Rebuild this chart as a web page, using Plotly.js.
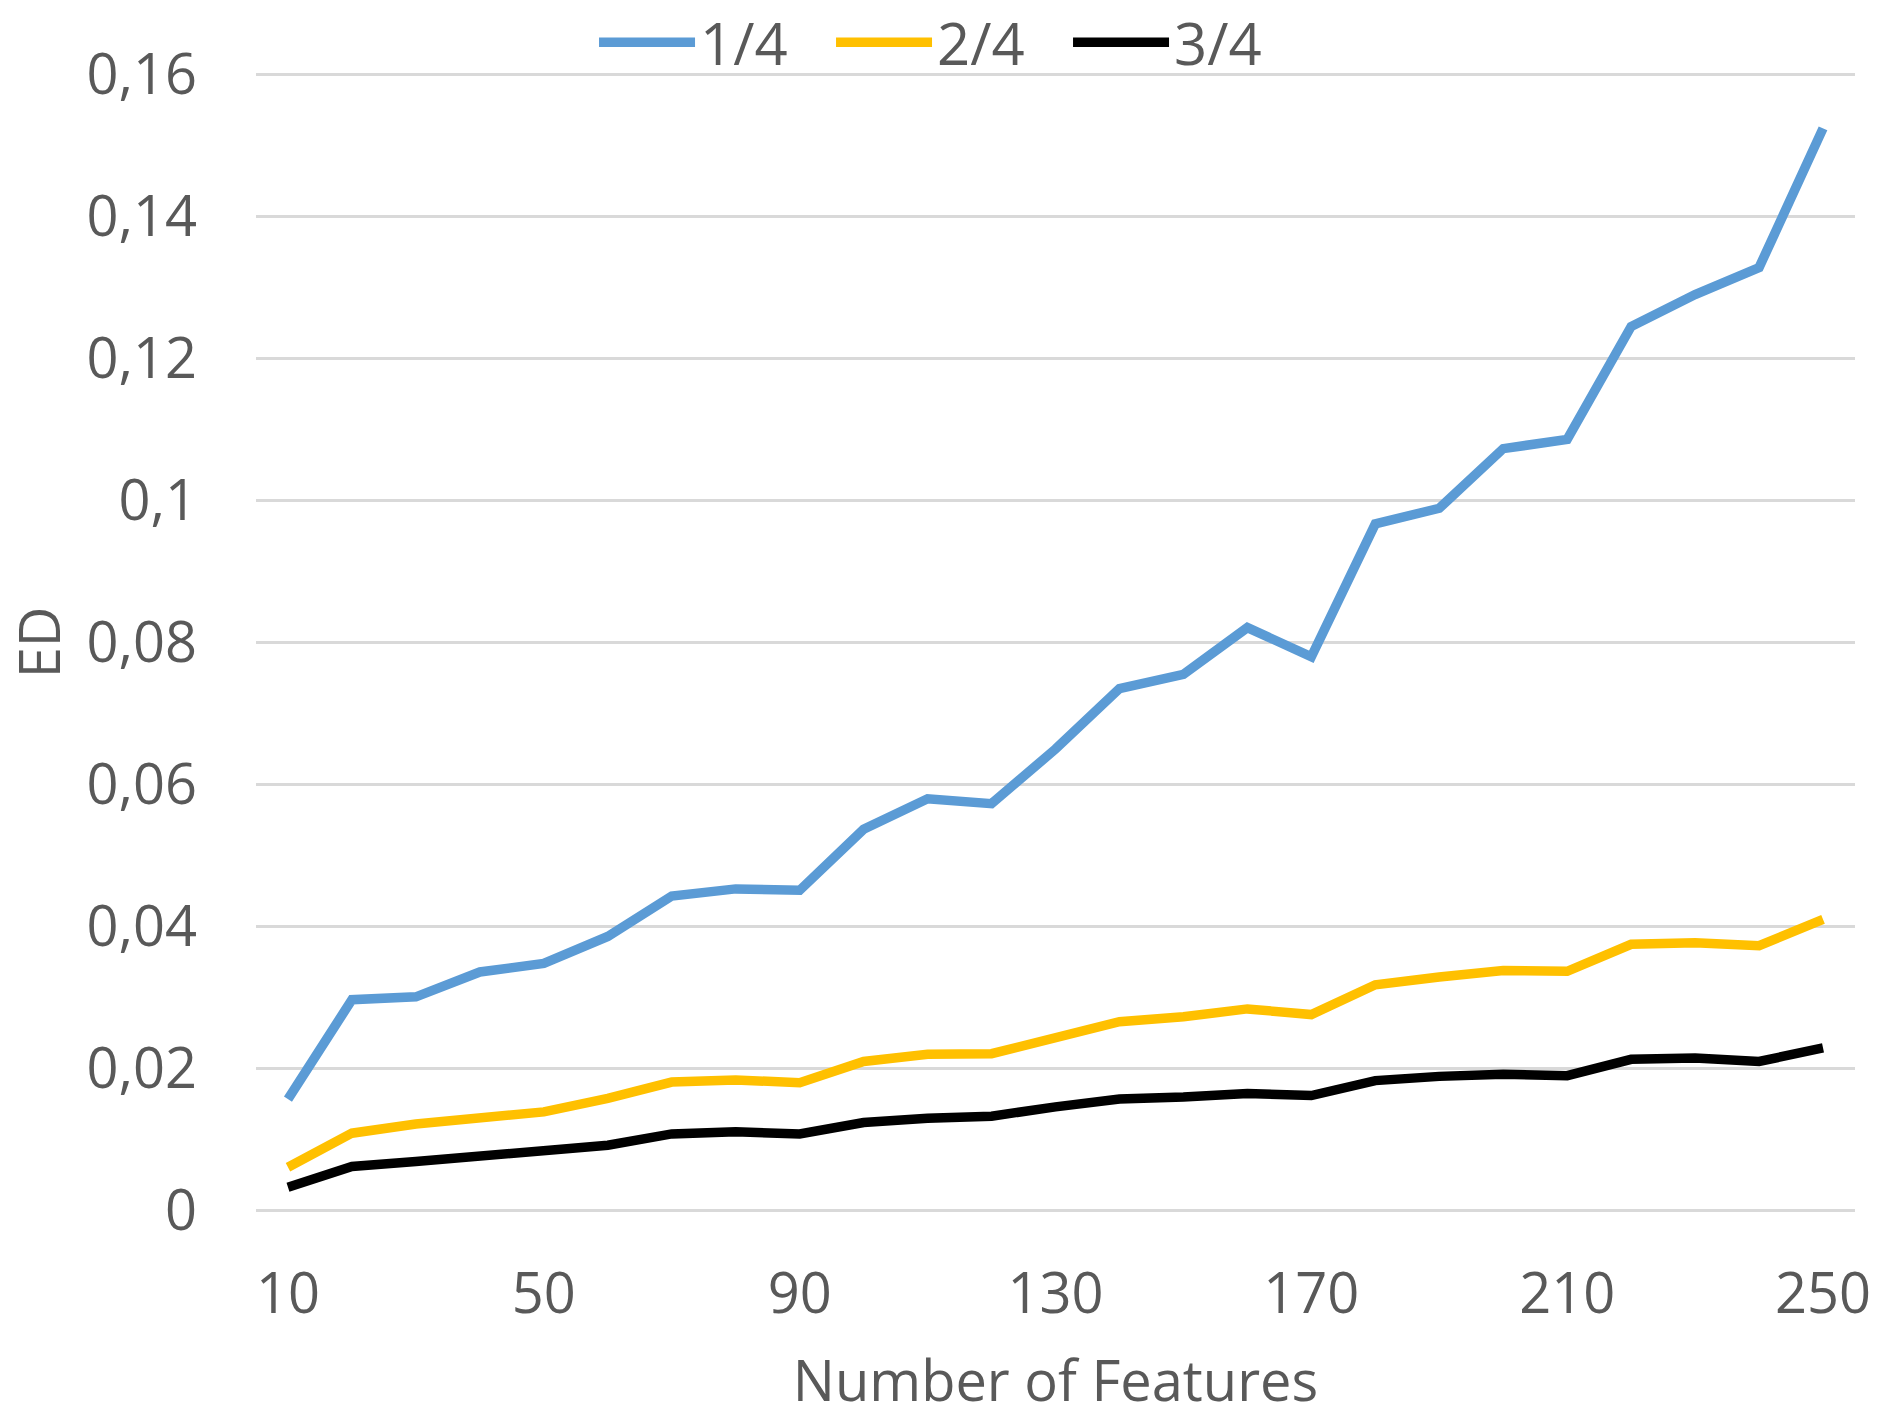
<!DOCTYPE html>
<html>
<head>
<meta charset="utf-8">
<script src="https://cdn.plot.ly/plotly-3.0.1.min.js"></script>
<style>html,body{margin:0;padding:0;background:#fff;}#chart{width:1881px;height:1417px;}</style>
</head>
<body>
<div id="chart"></div>
<script>
const features = [10,20,30,40,50,60,70,80,90,100,110,120,130,140,150,160,170,180,190,200,210,220,230,240,250];
const seriesNames = ['1/4','2/4','3/4'];
const quarter1 = [0.0157,0.0297,0.0301,0.0336,0.0348,0.0386,0.0443,0.0453,0.0451,0.0537,0.0580,0.0573,0.0650,0.0735,0.0755,0.0821,0.0780,0.0967,0.0989,0.1073,0.1086,0.1245,0.1290,0.1328,0.1524];
const quarter2 = [0.0061,0.0109,0.0122,0.0131,0.0139,0.0158,0.0181,0.0184,0.0180,0.0210,0.0220,0.0221,0.0242,0.0266,0.0273,0.0284,0.0276,0.0318,0.0329,0.0338,0.0337,0.0375,0.0377,0.0373,0.0410];
const quarter3 = [0.0033,0.0062,0.0069,0.0076,0.0083,0.0092,0.0108,0.0111,0.0108,0.0124,0.0130,0.0133,0.0146,0.0157,0.0160,0.0165,0.0162,0.0183,0.0189,0.0192,0.0190,0.0213,0.0215,0.0210,0.0229];
const xTickVals = [10,50,90,130,170,210,250];
const xTickText = ['10','50','90','130','170','210','250'];
const yTickVals = [0,0.02,0.04,0.06,0.08,0.1,0.12,0.14,0.16];
const yTickText = ['0','0,02','0,04','0,06','0,08','0,1','0,12','0,14','0,16'];
const colors = ['#5B9BD5','#FFC000','#000000'];

const font = {family: '"Open Sans", sans-serif', size: 56, color: '#595959'};
const legendFont = {family: '"Open Sans", sans-serif', size: 58, color: '#595959'};
const traces = [quarter1, quarter2, quarter3].map((ys, i) => ({
  type: 'scatter', mode: 'lines', x: features, y: ys, name: seriesNames[i],
  line: {color: colors[i], width: 9.5}
}));

const layout = {
  width: 1881, height: 1417,
  margin: {l: 256, r: 26, t: 72.6, b: 204.6, autoexpand: false},
  paper_bgcolor: '#ffffff', plot_bgcolor: '#ffffff',
  font: font,
  showlegend: true,
  legend: {orientation: 'h', x: 0.2114, xanchor: 'left', y: 1.0268, yanchor: 'middle',
    xref: 'paper', yref: 'paper', font: legendFont, itemwidth: 96,
    entrywidth: 126, entrywidthmode: 'pixels', tracegroupgap: 0, bgcolor: 'rgba(0,0,0,0)'},
  xaxis: {range: [5, 255], tickvals: xTickVals, ticktext: xTickText, showgrid: false,
    zeroline: false, showline: false, ticks: '', ticklabelstandoff: 44,
    title: {text: 'Number of Features', font: font, standoff: 38}},
  yaxis: {range: [-0.0002, 0.1602], tickvals: yTickVals, ticktext: yTickText, showgrid: true,
    gridcolor: '#D9D9D9', gridwidth: 2.5, zeroline: false, showline: false, ticks: '',
    ticklabelstandoff: 58, title: {text: 'ED', font: font, standoff: 38}}
};
Plotly.newPlot('chart', traces, layout, {displayModeBar: false, staticPlot: true});
</script>
</body>
</html>
